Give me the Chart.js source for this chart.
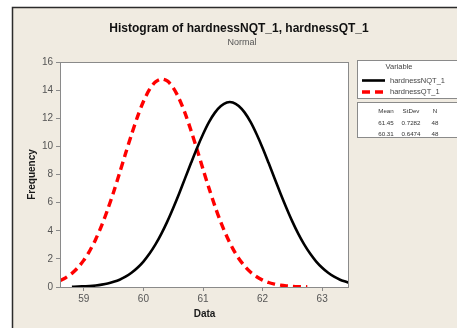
<!DOCTYPE html>
<html>
<head>
<meta charset="utf-8">
<script src="https://cdn.jsdelivr.net/npm/chart.js@4/dist/chart.umd.min.js"></script>
<style>
  html, body { margin: 0; padding: 0; background: #ffffff; }
  #wrap { position: relative; width: 457px; height: 328px; }
</style>
</head>
<body>
<div id="wrap"><canvas id="hist" width="457" height="328"></canvas></div>
<script>
// values
const nqtX = [58.8, 58.9, 59.0, 59.1, 59.2, 59.3, 59.4, 59.5, 59.6, 59.7, 59.8, 59.9,
  60.0, 60.1, 60.2, 60.3, 60.4, 60.5, 60.6, 60.7, 60.8, 60.9, 61.0, 61.1, 61.2, 61.3,
  61.4, 61.5, 61.6, 61.7, 61.8, 61.9, 62.0, 62.1, 62.2, 62.3, 62.4, 62.5, 62.6, 62.7,
  62.8, 62.9, 63.0, 63.1, 63.2, 63.3, 63.4, 63.45];
const nqtY = [0.02, 0.03, 0.05, 0.07, 0.11, 0.17, 0.25, 0.37, 0.52, 0.73, 1.01, 1.37,
  1.81, 2.36, 3.01, 3.78, 4.65, 5.62, 6.65, 7.74, 8.83, 9.89, 10.86, 11.72, 12.40, 12.87,
  13.12, 13.12, 12.87, 12.40, 11.72, 10.86, 9.89, 8.83, 7.74, 6.65, 5.62, 4.65, 3.78, 3.01,
  2.36, 1.81, 1.37, 1.01, 0.73, 0.52, 0.37, 0.30];

const qtX = [58.6, 58.7, 58.8, 58.9, 59.0, 59.1, 59.2, 59.3, 59.4, 59.5, 59.6, 59.7,
  59.8, 59.9, 60.0, 60.1, 60.2, 60.3, 60.4, 60.5, 60.6, 60.7, 60.8, 60.9, 61.0, 61.1,
  61.2, 61.3, 61.4, 61.5, 61.6, 61.7, 61.8, 61.9, 62.0, 62.1, 62.2, 62.3, 62.4, 62.5,
  62.6, 62.7, 62.75];
const qtY = [0.45, 0.67, 0.97, 1.38, 1.91, 2.58, 3.40, 4.38, 5.51, 6.76, 8.11, 9.49,
  10.84, 12.10, 13.19, 14.03, 14.58, 14.79, 14.65, 14.17, 13.38, 12.34, 11.11, 9.77, 8.38, 7.03,
  5.75, 4.59, 3.59, 2.73, 2.03, 1.48, 1.05, 0.73, 0.49, 0.32, 0.21, 0.13, 0.08, 0.05,
  0.03, 0.02, 0.01];

const xTicks = [59, 60, 61, 62, 63];
const yTicks = [0, 2, 4, 6, 8, 10, 12, 14, 16];

const seriesNames = ['hardnessNQT_1', 'hardnessQT_1'];
const statHeads = ['Mean', 'StDev', 'N'];
const statRows = [
  ['61.45', '0.7282', '48'],
  ['60.31', '0.6474', '48']
];
const titleText = 'Histogram of hardnessNQT_1, hardnessQT_1';
const subtitleText = 'Normal';

const pts = (xs, ys) => xs.map((x, i) => ({x: x, y: ys[i]}));

const beige = '#f0ebe1';

// frame, titles, plot border and the Minitab style legend
const minitabDecor = {
  id: 'minitabDecor',
  beforeDraw(chart) {
    const c = chart.ctx;
    const a = chart.chartArea;
    c.save();
    c.fillStyle = '#ffffff';
    c.fillRect(0, 0, chart.width, chart.height);
    c.fillStyle = beige;
    c.fillRect(12, 7, chart.width - 12, chart.height - 7);
    c.strokeStyle = '#2b2b2b';
    c.lineWidth = 1.5;
    c.beginPath();
    c.moveTo(12.5, chart.height);
    c.lineTo(12.5, 7.5);
    c.lineTo(chart.width, 7.5);
    c.stroke();
    c.fillStyle = '#ffffff';
    c.fillRect(a.left, a.top, a.right - a.left, a.bottom - a.top);
    c.restore();
  },
  afterDraw(chart) {
    const c = chart.ctx;
    const a = chart.chartArea;
    c.save();
    c.strokeStyle = '#8a8a8a';
    c.lineWidth = 1;
    c.strokeRect(a.left + 0.5, a.top + 0.5, a.right - a.left - 1, a.bottom - a.top);

    c.textAlign = 'center';
    c.textBaseline = 'middle';
    c.fillStyle = '#111111';
    c.font = 'bold 12px "Liberation Sans"';
    c.fillText(titleText, 239, 29);
    c.fillStyle = '#555555';
    c.font = '9px "Liberation Sans"';
    c.fillText(subtitleText, 242, 43);

    c.fillStyle = '#1a1a1a';
    c.font = 'bold 10px "Liberation Sans"';
    c.fillText('Data', (a.left + a.right) / 2, 314);
    c.translate(32, (a.top + a.bottom) / 2);
    c.rotate(-Math.PI / 2);
    c.fillText('Frequency', 0, 0);
    c.restore();

    // legend boxes
    c.save();
    c.fillStyle = '#ffffff';
    c.strokeStyle = '#8a8a8a';
    c.lineWidth = 1;
    c.fillRect(357, 60, 110, 38);
    c.strokeRect(357.5, 60.5, 110, 38);
    c.fillRect(357, 102, 110, 35);
    c.strokeRect(357.5, 102.5, 110, 35);

    c.font = '7.5px "Liberation Sans"';
    c.fillStyle = '#444444';
    c.textBaseline = 'middle';
    c.textAlign = 'center';
    c.fillText('Variable', 399, 67);
    c.textAlign = 'left';
    chart.data.datasets.forEach((ds, i) => {
      const y = 80.5 + i * 11.5;
      c.strokeStyle = ds.borderColor;
      c.lineWidth = ds.borderWidth;
      c.setLineDash(ds.borderDash || []);
      c.beginPath();
      c.moveTo(362, y);
      c.lineTo(385, y);
      c.stroke();
      c.setLineDash([]);
      c.fillText(seriesNames[i], 390, y);
    });

    c.font = '6.2px "Liberation Sans"';
    c.fillStyle = '#333333';
    c.textAlign = 'center';
    const cols = [386, 411, 435];
    statHeads.forEach((h, j) => c.fillText(h, cols[j], 111));
    statRows.forEach((row, i) => {
      row.forEach((v, j) => c.fillText(v, cols[j], 123 + i * 11));
    });
    c.restore();
  }
};

new Chart(document.getElementById('hist'), {
  type: 'line',
  data: {
    datasets: [
      {
        label: seriesNames[0],
        data: pts(nqtX, nqtY),
        borderColor: '#000000',
        borderWidth: 2.6,
        pointRadius: 0,
        tension: 0.3,
        fill: false
      },
      {
        label: seriesNames[1],
        data: pts(qtX, qtY),
        borderColor: '#ff0000',
        borderWidth: 3.4,
        borderDash: [8, 5],
        pointRadius: 0,
        tension: 0.3,
        fill: false
      }
    ]
  },
  options: {
    responsive: false,
    animation: false,
    events: [],
    layout: {padding: {left: 0, right: 108, top: 62, bottom: 0}},
    plugins: {
      legend: {display: false},
      title: {display: false},
      tooltip: {enabled: false}
    },
    scales: {
      x: {
        type: 'linear',
        min: 58.6,
        max: 63.45,
        afterBuildTicks: (s) => { s.ticks = xTicks.map(v => ({value: v})); },
        afterFit: (s) => { s.height = 41; },
        border: {display: false},
        grid: {drawOnChartArea: false, tickLength: 4, color: '#8a8a8a', tickColor: '#8a8a8a'},
        ticks: {color: '#555555', font: {family: 'Liberation Sans', size: 10}, padding: 2, maxRotation: 0}
      },
      y: {
        min: 0,
        max: 16,
        afterBuildTicks: (s) => { s.ticks = yTicks.map(v => ({value: v})); },
        afterFit: (s) => { s.width = 60; },
        border: {display: false},
        grid: {drawOnChartArea: false, tickLength: 4, color: '#8a8a8a', tickColor: '#8a8a8a'},
        ticks: {color: '#555555', font: {family: 'Liberation Sans', size: 10}, padding: 3}
      }
    }
  },
  plugins: [minitabDecor]
});
</script>
</body>
</html>
